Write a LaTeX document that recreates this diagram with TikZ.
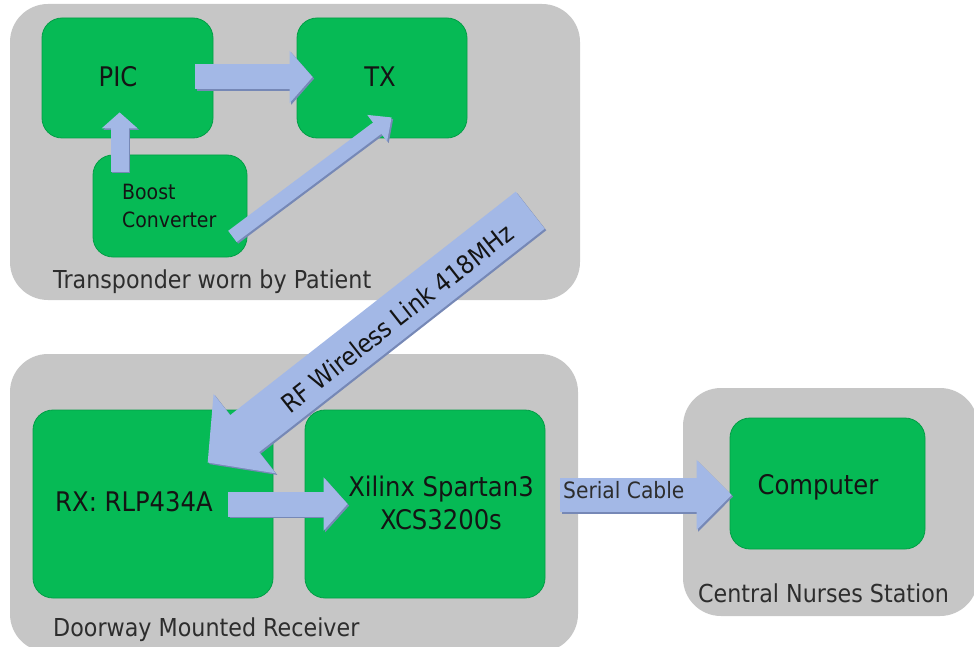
\documentclass[tikz,border=0pt]{standalone}
\usepackage{fontspec}
\setmainfont[FakeStretch=0.9]{DejaVu Sans}
\usetikzlibrary{arrows.meta,calc}

\definecolor{groupgray}{RGB}{198,198,198}
\definecolor{boxgreen}{RGB}{6,186,85}
\definecolor{boxedge}{RGB}{3,158,70}
\definecolor{arrowblue}{RGB}{163,184,230}
\definecolor{arrowshade}{RGB}{118,136,182}
\definecolor{textdark}{RGB}{20,20,20}
\definecolor{labelgray}{RGB}{45,45,45}

\begin{document}
\begin{tikzpicture}[x=1pt,y=-1pt,
  group/.style={rectangle, fill=groupgray, rounded corners=38pt, inner sep=0pt},
  unit/.style={rectangle, fill=boxgreen, draw=boxedge, line width=0.8pt,
    rounded corners=20pt, inner sep=0pt},
  unittext/.style={text=textdark, inner sep=0pt, font=\fontsize{27}{33}\selectfont},
  grouplabel/.style={text=labelgray, inner sep=0pt, anchor=base west,
    font=\fontsize{24.7}{30}\selectfont},
  barrow/.style n args={3}{arrowblue, line width=#1,
    -{Triangle[length=#2,width=#3]}},
  bshade/.style n args={3}{arrowshade, line width=#1,
    -{Triangle[length=#2,width=#3]},
    transform canvas={shift={(1.6pt,-1.6pt)}}},
]
\useasboundingbox (0,0) rectangle (974,647);
\clip (0,0) rectangle (974,647);

% groups
\node[group, minimum width=570, minimum height=296] (gtop) at (295,152) {};
\node[group, minimum width=568, minimum height=298] (gdoor) at (294,503) {};
\node[group, minimum width=295, minimum height=228] (gnurse) at (830.5,502) {};

\node[grouplabel] (ltop) at (53,288) {Transponder worn by Patient};
\node[grouplabel] (ldoor) at (53,636) {Doorway Mounted Receiver};
\node[grouplabel] (lnurse) at (698,602) {Central Nurses Station};

% functional blocks
\node[unit, minimum width=171, minimum height=120] (pic) at (127.5,78) {};
\node[unit, minimum width=170, minimum height=120] (tx) at (382,78) {};
\node[unit, minimum width=154, minimum height=102] (boost) at (170,206) {};
\node[unit, minimum width=240, minimum height=188] (rx) at (153,504) {};
\node[unit, minimum width=240, minimum height=188] (fpga) at (425,504) {};
\node[unit, minimum width=195, minimum height=131] (pc) at (827.5,483.5) {};

\node[unittext] (pict) at (118,77) {PIC};
\node[unittext] (txt) at (380,77) {TX};
\node[unittext, anchor=west, align=left, font=\fontsize{21}{28}\selectfont]
  (boostt) at (122,206) {Boost\\Converter};
\node[unittext] (rxt) at (134,502) {RX: RLP434A};
\node[unittext, align=center] (fpgat) at (441,503) {Xilinx Spartan3\\XCS3200s};
\node[unittext] (pct) at (818,487) {Computer};

% block arrows: darker copy underneath for the bevel, then the face
\coordinate (a1s) at ($(pic.east)+(-18,-1)$);
\coordinate (a1e) at ($(tx.west)+(16,-1)$);
\coordinate (a2s) at ($(boost.north west)+(27,17)$);
\coordinate (a2e) at ($(pic.south west)+(78,-26)$);
\coordinate (a3s) at ($(boost.south east)+(-15,-21)$);
\coordinate (a3e) at ($(tx.south west)+(95,-21)$);
\coordinate (a4s) at ($(gtop.south east)+(-50,-90)$);
\coordinate (a4e) at ($(rx.north west)+(175,53)$);
\coordinate (a5s) at ($(rx.east)+(-45,0)$);
\coordinate (a5e) at ($(fpga.west)+(43,0)$);
\coordinate (a6s) at ($(fpga.east)+(15,-9)$);
\coordinate (a6e) at ($(pc.west)+(2,11.5)$);

\draw[bshade={25pt}{23pt}{51pt}] (a1s) -- (a1e);
\draw[barrow={25pt}{23pt}{51pt}] (a1s) -- (a1e);
\draw[bshade={18pt}{16pt}{35pt}] (a2s) -- (a2e);
\draw[barrow={18pt}{16pt}{35pt}] (a2s) -- (a2e);
\draw[bshade={14pt}{18pt}{32pt}] (a3s) -- (a3e);
\draw[barrow={14pt}{18pt}{32pt}] (a3s) -- (a3e);
\draw[bshade={47pt}{47pt}{98pt}] (a4s) -- (a4e);
\draw[barrow={47pt}{47pt}{98pt}] (a4s) -- (a4e);
\draw[bshade={25pt}{24pt}{52pt}] (a5s) -- (a5e);
\draw[barrow={25pt}{24pt}{52pt}] (a5s) -- (a5e);
\draw[bshade={34pt}{35pt}{68pt}] (a6s) -- (a6e);
\draw[barrow={34pt}{35pt}{68pt}] (a6s) -- (a6e);

\node[unittext, rotate=38.2, font=\fontsize{25.5}{30}\selectfont]
  (rft) at (397,318) {RF Wireless Link 418MHz};
\node[unittext, anchor=base west, font=\fontsize{22.5}{27}\selectfont,
  text=labelgray] (serialt) at (563,498) {Serial Cable};
\end{tikzpicture}
\end{document}
